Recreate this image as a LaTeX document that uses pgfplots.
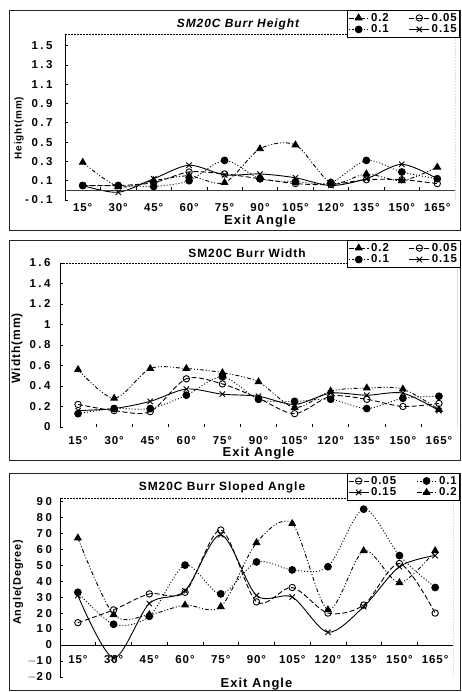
\documentclass[border=0pt]{standalone}
\usepackage{fontspec}
\setmainfont{Liberation Sans}[LetterSpace=8]
\newfontfamily\widefont{Liberation Sans}[LetterSpace=22]
\usepackage{pgfplots}
\pgfplotsset{compat=1.18}
\newcommand\tickfont{\fontsize{11.5}{12}\selectfont\bfseries}
\newcommand\ytickfont{\fontsize{11.5}{12}\selectfont\widefont\bfseries}
\tikzset{
 frameL/.style={black, line width=0.7bp},
 frameD/.style={black, line width=0.5bp, densely dotted},
}
\begin{document}
\begin{tikzpicture}[x=1bp,y=1bp]
\useasboundingbox (0,0) rectangle (462,692);
\draw[line width=0.6bp, black!85] (9,462) rectangle (460.5,682);
\draw[line width=0.6bp, black!85] (9,232) rectangle (460.5,452);
\draw[line width=0.6bp, black!85] (9,1.5) rectangle (460.5,219);
\pgfplotsset{
 burr/.style={
  scale only axis, anchor=south west,
  xmin=0.5, xmax=11.5,
  xtick={1,...,11},
  xticklabels={15°,30°,45°,60°,75°,90°,105°,120°,135°,150°,165°},
  major x tick style={draw=none},
  ytick pos=left,
  tick style={black, line width=0.6bp},
  major tick length=3bp,
  axis line style={draw=none},
  xticklabel style={font=\tickfont},
  yticklabel style={font=\ytickfont},
  /pgf/number format/assume math mode=true,
  legend columns=2,
  legend style={draw=black, line width=0.6bp, font=\tickfont, inner sep=1bp,
    row sep=-2bp, /tikz/every even column/.append style={column sep=18bp}},
  legend cell align=left,
  legend image code/.code={\draw[mark repeat=2,mark phase=2,##1] plot coordinates {(0bp,0bp) (10bp,0bp) (20bp,0bp)};},
  every axis plot/.append style={black, line width=0.9bp, smooth},
 },
 sA/.style={dash pattern=on 4bp off 2bp on 1bp off 2bp on 1bp off 2bp, mark=triangle*, mark size=3.8bp, mark options={solid}},
 sB/.style={dash pattern=on 5bp off 2.5bp, mark=o, mark size=3.2bp, mark options={solid, fill=white}},
 sC/.style={dash pattern=on 1bp off 2bp, mark=*, mark size=3.4bp, mark options={solid}},
 sD/.style={solid, mark=x, mark size=3.8bp},
}
% ---------- Panel 1 ----------
\node[font=\fontsize{12}{13}\selectfont\bfseries\itshape] at (238,668) {SM20C Burr Height};
\begin{axis}[burr, at={(65bp,492bp)}, width=390bp, height=166bp,
  ymin=-0.1, ymax=1.62,
  ytick={-0.1,0.1,0.3,0.5,0.7,0.9,1.1,1.3,1.5},
  yticklabels={-0.1,0.1,0.3,0.5,0.7,0.9,1.1,1.3,1.5},
  yticklabel style={xshift=-9bp},
  xticklabel style={anchor=center, yshift=-8bp},
  ylabel={Height(mm)}, ylabel style={at={(axis description cs:-0.118,0.434)}, anchor=center, font=\fontsize{10}{11}\selectfont\bfseries},
  xlabel={Exit Angle}, xlabel style={at={(axis description cs:0.5,-0.145)}, anchor=base, font=\fontsize{13}{14}\selectfont\bfseries},
  legend style={at={(1.013,1.145)}, anchor=north east},
]
\addplot[sA] coordinates {(1,0.29) (2,0.04) (3,0.10) (4,0.15) (5,0.08) (6,0.43) (7,0.47) (8,0.08) (9,0.17) (10,0.10) (11,0.24)};
\addlegendentry{0.2}
\addplot[sB] coordinates {(1,0.05) (2,0.05) (3,0.08) (4,0.19) (5,0.17) (6,0.12) (7,0.07) (8,0.06) (9,0.11) (10,0.11) (11,0.07)};
\addlegendentry{0.05}
\addplot[sC] coordinates {(1,0.05) (2,0.05) (3,0.04) (4,0.10) (5,0.31) (6,0.12) (7,0.09) (8,0.08) (9,0.31) (10,0.19) (11,0.12)};
\addlegendentry{0.1}
\addplot[sD] coordinates {(1,0.05) (2,-0.02) (3,0.12) (4,0.26) (5,0.16) (6,0.17) (7,0.13) (8,0.05) (9,0.12) (10,0.27) (11,0.12)};
\addlegendentry{0.15}
\draw[black!75, line width=1.2bp] (axis cs:0.5,0) -- (axis cs:11.5,0);
\pgfplotsinvokeforeach{1.5,2.5,...,10.5}{\draw[black, line width=0.6bp] (axis cs:#1,0) -- ([yshift=3bp]axis cs:#1,0);}
\draw[frameL] (rel axis cs:0,0) -- (rel axis cs:0,1);
\draw[frameL] (rel axis cs:0,0) -- (rel axis cs:1,0);
\draw[frameD] (rel axis cs:0,1) -- (rel axis cs:1,1) -- (rel axis cs:1,0);
\end{axis}
% ---------- Panel 2 ----------
\node[font=\fontsize{12}{13}\selectfont\bfseries] at (247,439) {SM20C Burr Width};
\begin{axis}[burr, at={(60bp,265bp)}, width=397bp, height=164bp,
  ymin=0, ymax=1.6,
  ytick={0,0.2,0.4,0.6,0.8,1,1.2,1.4,1.6},
  yticklabels={0,0.2,0.4,0.6,0.8,1,1.2,1.4,1.6},
  yticklabel style={xshift=-6bp},
  xticklabel style={anchor=center, yshift=-13.5bp},
  minor xtick={1.5,2.5,...,10.5}, xtick pos=bottom, minor tick length=3bp,
  ylabel={Width(mm)}, ylabel style={at={(axis description cs:-0.108,0.48)}, anchor=center, font=\fontsize{12}{13}\selectfont\bfseries},
  xlabel={Exit Angle}, xlabel style={at={(axis description cs:0.5,-0.178)}, anchor=base, font=\fontsize{13}{14}\selectfont\bfseries},
  legend style={at={(1.008,1.14)}, anchor=north east},
]
\addplot[sA] coordinates {(1,0.56) (2,0.28) (3,0.57) (4,0.57) (5,0.53) (6,0.44) (7,0.19) (8,0.35) (9,0.38) (10,0.37) (11,0.17)};
\addlegendentry{0.2}
\addplot[sB] coordinates {(1,0.22) (2,0.16) (3,0.15) (4,0.47) (5,0.42) (6,0.28) (7,0.13) (8,0.30) (9,0.27) (10,0.20) (11,0.23)};
\addlegendentry{0.05}
\addplot[sC] coordinates {(1,0.13) (2,0.18) (3,0.18) (4,0.31) (5,0.49) (6,0.27) (7,0.25) (8,0.27) (9,0.18) (10,0.28) (11,0.30)};
\addlegendentry{0.1}
\addplot[sD] coordinates {(1,0.16) (2,0.18) (3,0.25) (4,0.37) (5,0.32) (6,0.30) (7,0.22) (8,0.33) (9,0.31) (10,0.33) (11,0.16)};
\addlegendentry{0.15}
\draw[frameL] (rel axis cs:0,0) -- (rel axis cs:0,1);
\draw[frameL] (rel axis cs:0,0) -- (rel axis cs:1,0);
\draw[frameD] (rel axis cs:0,1) -- (rel axis cs:1,1);
\draw[frameL] (rel axis cs:1,1) -- (rel axis cs:1,0);
\end{axis}
% ---------- Panel 3 ----------
\node[font=\fontsize{12}{13}\selectfont\bfseries] at (222,205) {SM20C Burr Sloped Angle};
\begin{axis}[burr, at={(60bp,15bp)}, width=393bp, height=179bp,
  ymin=-20, ymax=92,
  ytick={-20,-10,0,10,20,30,40,50,60,70,80,90},
  yticklabels={$-$20,$-$10,0,10,20,30,40,50,60,70,80,90},
  yticklabel style={xshift=-4.5bp},
  xticklabel style={anchor=center, yshift=17bp},
  ylabel={Angle(Degree)}, ylabel style={at={(axis description cs:-0.107,0.53)}, anchor=center, font=\fontsize{11}{12}\selectfont\bfseries},
  xlabel={Exit Angle}, xlabel style={at={(axis description cs:0.5,-0.058)}, anchor=base, font=\fontsize{13}{14}\selectfont\bfseries},
  legend style={at={(1.018,1.14)}, anchor=north east},
]
\addplot[sB] coordinates {(1,14) (2,22) (3,32) (4,33) (5,72) (6,27) (7,36) (8,20) (9,25) (10,51) (11,20)};
\addlegendentry{0.05}
\addplot[sC] coordinates {(1,33) (2,13) (3,18) (4,50) (5,32) (6,52) (7,47) (8,49) (9,85) (10,56) (11,36)};
\addlegendentry{0.1}
\addplot[sD] coordinates {(1,31) (2,-8) (3,26) (4,34) (5,69) (6,31) (7,30) (8,8) (9,24) (10,49) (11,56)};
\addlegendentry{0.15}
\addplot[sA] coordinates {(1,67) (2,19) (3,19) (4,25) (5,24) (6,64) (7,76) (8,22) (9,59) (10,39) (11,59)};
\addlegendentry{0.2}
\draw[black, line width=0.9bp] (axis cs:0.5,0) -- (axis cs:11.5,0);
\pgfplotsinvokeforeach{1.5,2.5,...,10.5}{\draw[black, line width=0.6bp] (axis cs:#1,0) -- ([yshift=3bp]axis cs:#1,0);}
\draw[frameL] (rel axis cs:0,0) -- (rel axis cs:0,1);
\draw[frameD] (rel axis cs:0,0) -- (rel axis cs:1,0) -- (rel axis cs:1,1) -- (rel axis cs:0,1);
\end{axis}
\end{tikzpicture}
\end{document}
